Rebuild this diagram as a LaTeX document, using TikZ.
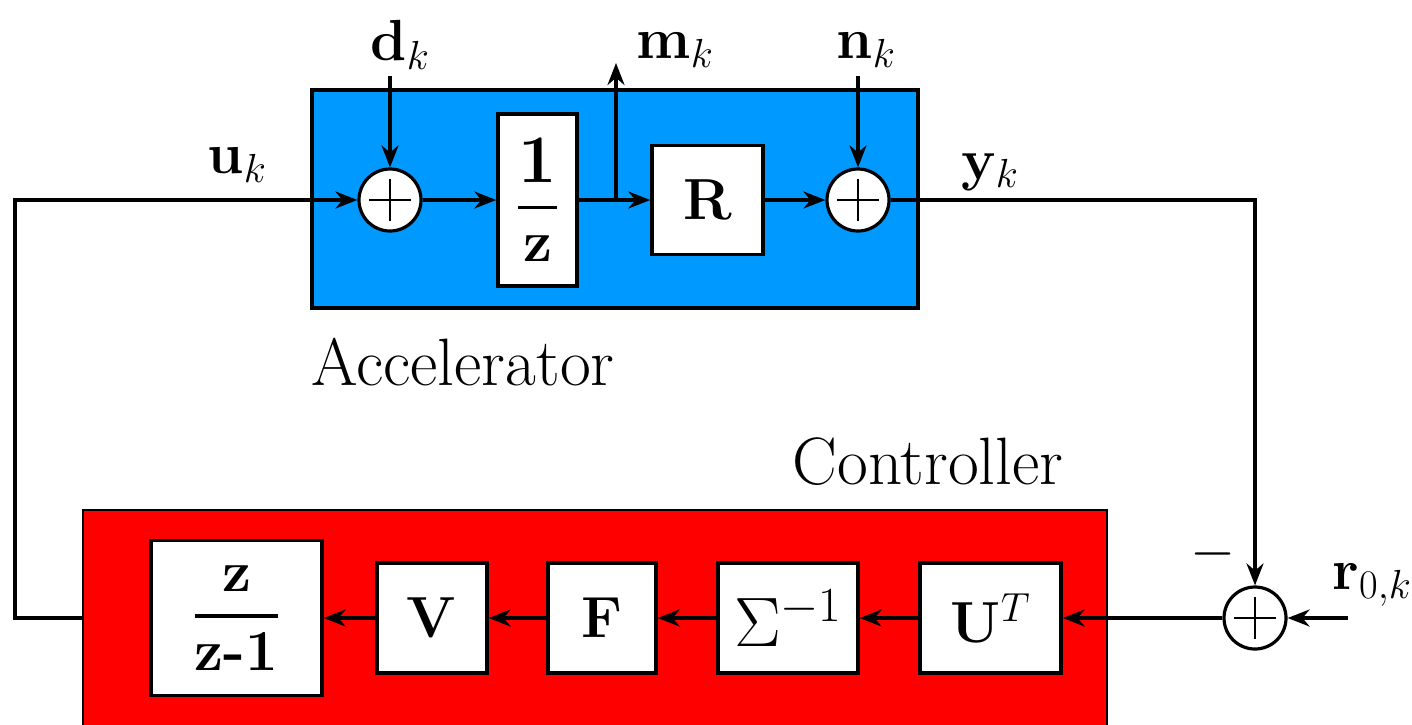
\documentclass[tikz,border=0pt]{standalone}
\usepackage{fix-cm}
\usepackage{amsmath}
\usetikzlibrary{arrows.meta}
\definecolor{accblue}{RGB}{0,153,255}
\definecolor{ctrlred}{RGB}{255,0,0}
\begin{document}
\begin{tikzpicture}[x=1pt,y=-1pt,line width=3.2pt,
  >={Stealth[length=22pt,width=17pt]},
  every node/.style={font=\fontsize{58}{70}\selectfont},
  blk/.style={draw,fill=white,inner sep=0pt,line width=3.4pt},
  sumnode/.style={circle,draw,fill=white,minimum size=62pt,inner sep=0pt,line width=3.2pt,
    path picture={\draw[line width=2.6pt] ([xshift=-21pt]path picture bounding box.center) -- ([xshift=21pt]path picture bounding box.center);
                  \draw[line width=2.6pt] ([yshift=-21pt]path picture bounding box.center) -- ([yshift=21pt]path picture bounding box.center);}},
  region/.style={draw,inner sep=0pt,line width=3.2pt},
  lbl/.style={inner sep=0pt},
  txt/.style={inner sep=0pt,font=\fontsize{67}{80}\selectfont}]
\useasboundingbox (0,0) rectangle (1412,724);
\clip (0,0) rectangle (1412,724);
% regions
\node[region,fill=accblue,minimum width=606pt,minimum height=218pt] (acc) at (615,199) {};
\node[region,fill=ctrlred,minimum width=1024pt,minimum height=240pt,line width=1.6pt] (ctrl) at (595,630) {};
\node[txt,anchor=west] (acclbl) at (310,362) {Accelerator};
\node[txt] (ctrllbl) at (928,462) {Controller};
% accelerator blocks
\node[sumnode] (s1) at (390,200) {};
\node[blk,minimum width=79pt,minimum height=172pt] (dly) at (537.5,200) {$\genfrac{}{}{3.5pt}{0}{\text{\fontsize{68}{70}\selectfont\bfseries 1}}{\mathbf z}$};
\node[blk,minimum width=111pt,minimum height=109pt] (R) at (707.5,200) {$\mathbf R$};
\node[sumnode] (s2) at (858,200) {};
% controller blocks
\node[sumnode] (s3) at (1255,618) {};
\node[blk,minimum width=141pt,minimum height=110pt] (UT) at (990.5,618) {$\mathbf U^{T}$};
\node[blk,minimum width=140pt,minimum height=110pt,font=\fontsize{70}{80}\selectfont] (Sig) at (788,618) {$\Sigma^{-1}$};
\node[blk,minimum width=108pt,minimum height=110pt] (F) at (602,618) {$\mathbf F$};
\node[blk,minimum width=110pt,minimum height=110pt] (V) at (432,618) {$\mathbf V$};
\node[blk,minimum width=171pt,minimum height=155pt] (zz) at (236.5,618) {$\genfrac{}{}{3.5pt}{0}{\mathbf z}{\textbf{z-1}}$};
% labels
\node[lbl] (dk) at (400,45) {$\mathbf d_k$};
\node[lbl] (mk) at (675,50) {$\mathbf m_k$};
\node[lbl] (nk) at (866,50) {$\mathbf n_k$};
\node[lbl] (uk) at (237,165) {$\mathbf u_k$};
\node[lbl] (yk) at (990,172) {$\mathbf y_k$};
\node[lbl] (rk) at (1372,585) {$\mathbf r_{0,k}$};
\node[lbl] (minus) at (1213,554) {$-$};
% coordinates
\coordinate (dtop) at (390,76);
\coordinate (ntop) at (858,76);
\coordinate (br) at (616,200);
\coordinate (mtop) at (616,63);
\coordinate (yc) at (1255,200);
\coordinate (rin) at (1348,618);
\coordinate (redL) at (83,618);
\coordinate (lc) at (15,618);
% connectors
\draw[->] (dtop) -- (s1.north);
\draw[->] (ntop) -- (s2.north);
\draw[->] (redL) -- (lc) |- (s1.west);
\draw[->] (s1.east) -- (dly.west);
\draw[->] (dly.east) -- (R.west);
\draw[->] (br) -- (mtop);
\draw[->] (R.east) -- (s2.west);
\draw[->] (s2.east) -- (yc) -- (s3.north);
\draw[->] (rin) -- (s3.east);
\draw[->] (s3.west) -- (UT.east);
\draw[->] (UT.west) -- (Sig.east);
\draw[->] (Sig.west) -- (F.east);
\draw[->] (F.west) -- (V.east);
\draw[->] (V.west) -- (zz.east);
\end{tikzpicture}
\end{document}
